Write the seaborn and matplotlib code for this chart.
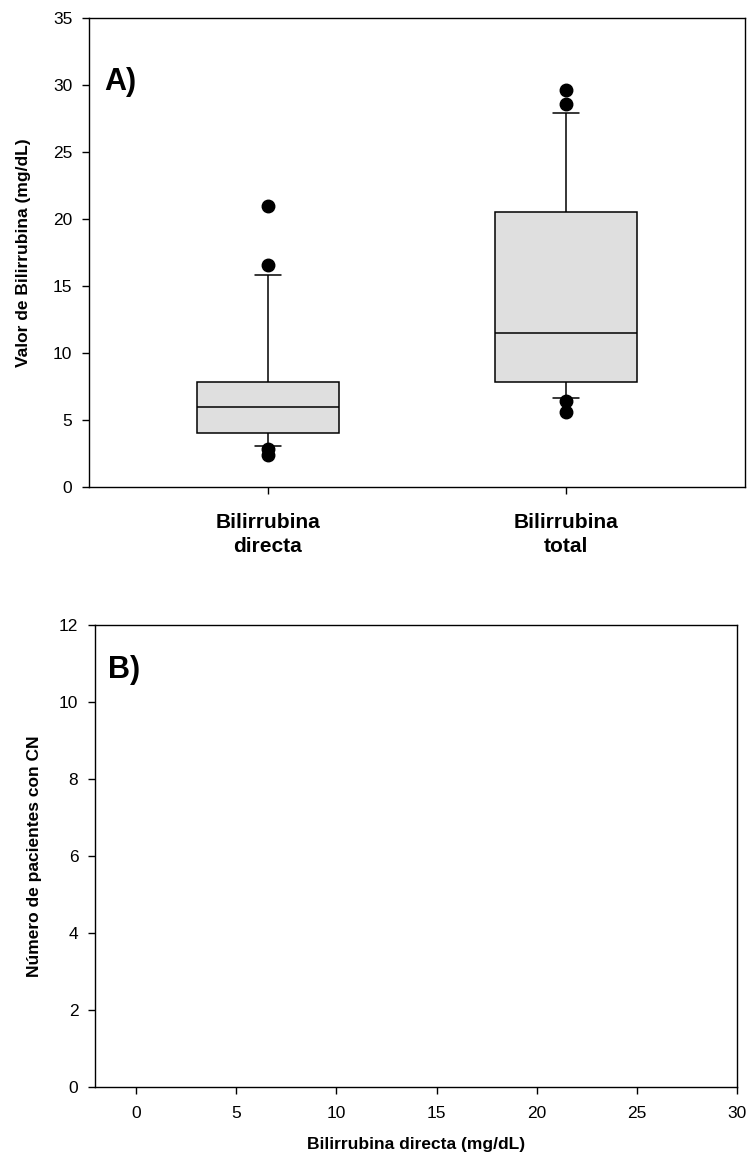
import numpy as np
import pandas as pd
import matplotlib
matplotlib.use("Agg")
import matplotlib.pyplot as plt
import seaborn as sns

# ---- data ----
categories = ["Bilirrubina\ndirecta", "Bilirrubina\ntotal"]
bili_directa = [2.4, 2.8, 3.05, 3.4, 3.8, 4.0, 4.5, 5.0, 5.4, 5.8, 6.0,
                6.3, 6.7, 7.0, 7.4, 7.85, 9.5, 12.0, 15.8, 16.6, 21.0]
bili_total = [5.6, 6.4, 6.65, 7.0, 7.4, 7.8, 8.5, 9.2, 10.0, 10.8, 11.5,
              12.5, 14.0, 15.5, 18.0, 20.5, 22.5, 25.0, 27.9, 28.6, 29.6]
hist_values = []  # panel B is empty in the reference
yticks_a = [0, 5, 10, 15, 20, 25, 30, 35]
yticks_b = [0, 2, 4, 6, 8, 10, 12]
xticks_b = [0, 5, 10, 15, 20, 25, 30]

sns.set_style("ticks")
plt.rcParams['font.family'] = ['Liberation Sans', 'DejaVu Sans']
plt.rcParams['text.color'] = 'black'
plt.rcParams['axes.labelcolor'] = 'black'
plt.rcParams['xtick.color'] = 'black'
plt.rcParams['ytick.color'] = 'black'

df = pd.DataFrame({
    "grupo": [categories[0]] * len(bili_directa) + [categories[1]] * len(bili_total),
    "valor": bili_directa + bili_total,
})

fig = plt.figure(figsize=(7.49, 11.65), dpi=100)
axA = fig.add_axes([0.1188, 0.582, 0.8759, 0.4025])
axB = fig.add_axes([0.1268, 0.067, 0.8572, 0.3965])

sns.boxplot(data=df, x="grupo", y="valor", order=categories, ax=axA,
            whis=(10, 90), width=0.475, color="#DFDFDF", linecolor="black",
            linewidth=1.1, saturation=1, capwidths=0.087,
            flierprops=dict(marker="o", markerfacecolor="black",
                            markeredgecolor="black", markersize=9))

axA.set_xlim(-0.6, 1.6)
axA.set_ylim(0, 35)
axA.set_yticks(yticks_a)
axA.set_xlabel("")
axA.set_ylabel("Valor de Bilirrubina (mg/dL)", fontsize=12.5, fontweight="bold", labelpad=16)
axA.tick_params(axis="y", labelsize=12.5, length=5, width=1, direction="out", pad=7)
axA.tick_params(axis="x", labelsize=15, length=5, width=1, direction="out", pad=14)
for lab in axA.get_xticklabels():
    lab.set_fontweight("bold")
    lab.set_linespacing(1.3)
for s in axA.spines.values():
    s.set_visible(True)
    s.set_linewidth(1.0)
    s.set_color("black")
axA.text(0.024, 0.864, "A)", transform=axA.transAxes, fontsize=22,
         fontweight="bold", va="center", ha="left")

# Panel B: empty histogram
sns.histplot(x=np.array(hist_values, dtype=float), ax=axB, bins=np.arange(0, 31, 2))
axB.set_xlim(-2.05, 30)
axB.set_ylim(0, 12)
axB.set_xticks(xticks_b)
axB.set_yticks(yticks_b)
axB.set_xlabel("Bilirrubina directa (mg/dL)", fontsize=12.5, fontweight="bold", labelpad=11)
axB.set_ylabel("Número de pacientes con CN", fontsize=12.5, fontweight="bold", labelpad=12)
axB.tick_params(axis="both", labelsize=12.5, length=5, width=1, direction="out", pad=7)
axB.tick_params(axis="x", pad=9)
for s in axB.spines.values():
    s.set_visible(True)
    s.set_linewidth(1.0)
    s.set_color("black")
axB.text(0.02, 0.903, "B)", transform=axB.transAxes, fontsize=22,
         fontweight="bold", va="center", ha="left")

fig.savefig("out.png", dpi=100)
